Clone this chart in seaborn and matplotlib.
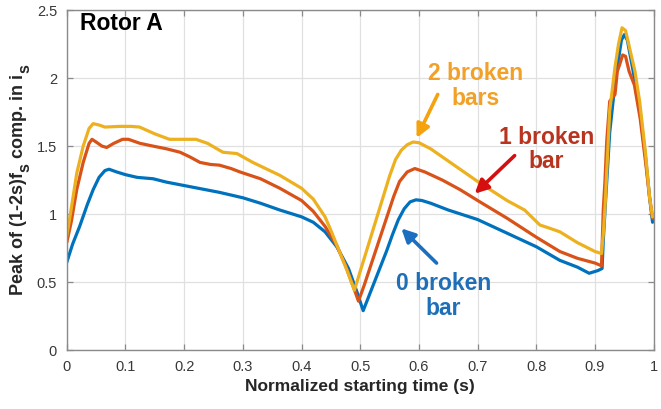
import matplotlib
matplotlib.use("Agg")
import matplotlib.pyplot as plt
import matplotlib._mathtext as _mt
import seaborn as sns
import pandas as pd

# ---- data ----
x0 = [0.0, 0.01, 0.022, 0.035, 0.045, 0.055, 0.065, 0.072, 0.085, 0.1, 0.12, 0.147, 0.17, 0.2,
      0.23, 0.26, 0.3, 0.33, 0.363, 0.4, 0.42, 0.44, 0.46, 0.48, 0.495, 0.505, 0.515, 0.525,
      0.535, 0.545, 0.555, 0.565, 0.575, 0.585, 0.595, 0.605, 0.62, 0.65, 0.7, 0.75, 0.8,
      0.84, 0.87, 0.89, 0.905, 0.912, 0.914, 0.918, 0.925, 0.935, 0.945, 0.95, 0.955, 0.965,
      0.976, 0.986, 0.993, 0.998]
y0 = [0.645, 0.78, 0.91, 1.07, 1.18, 1.27, 1.32, 1.33, 1.31, 1.29, 1.27, 1.26, 1.235, 1.21,
      1.185, 1.16, 1.12, 1.08, 1.03, 0.98, 0.94, 0.87, 0.76, 0.6, 0.42, 0.29, 0.40, 0.51,
      0.62, 0.73, 0.85, 0.96, 1.04, 1.09, 1.105, 1.10, 1.08, 1.03, 0.96, 0.86, 0.76,
      0.66, 0.61, 0.565, 0.585, 0.60, 0.8, 1.1, 1.6, 2.0, 2.28, 2.32, 2.28, 2.05,
      1.78, 1.42, 1.12, 0.94]

x1 = [0.0, 0.008, 0.017, 0.028, 0.038, 0.043, 0.05, 0.06, 0.068, 0.08, 0.095, 0.105, 0.125,
      0.147, 0.17, 0.193, 0.21, 0.227, 0.245, 0.26, 0.28, 0.295, 0.33, 0.363, 0.4, 0.42,
      0.44, 0.46, 0.475, 0.487, 0.497, 0.507, 0.517, 0.527, 0.537, 0.547, 0.557, 0.567,
      0.58, 0.593, 0.61, 0.64, 0.67, 0.7, 0.75, 0.8, 0.84, 0.87, 0.9, 0.911, 0.914, 0.917,
      0.92, 0.925, 0.934, 0.938, 0.942, 0.947, 0.952, 0.958, 0.967, 0.977, 0.987, 0.993,
      0.998]
y1 = [0.79, 0.95, 1.18, 1.38, 1.52, 1.55, 1.53, 1.50, 1.49, 1.52, 1.55, 1.55, 1.52,
      1.50, 1.48, 1.455, 1.42, 1.38, 1.365, 1.36, 1.335, 1.31, 1.26, 1.19, 1.10, 1.02,
      0.91, 0.77, 0.62, 0.48, 0.36, 0.48, 0.61, 0.74, 0.87, 1.0, 1.13, 1.24,
      1.31, 1.335, 1.31, 1.25, 1.18, 1.10, 0.97, 0.83, 0.725, 0.675, 0.64, 0.62, 1.03, 1.25,
      1.54, 1.83, 1.88, 2.05, 2.10, 2.17, 2.16, 2.05, 1.95, 1.70, 1.35, 1.12,
      0.97]

x2 = [0.0, 0.008, 0.017, 0.028, 0.038, 0.045, 0.055, 0.065, 0.09, 0.11, 0.124, 0.15, 0.175,
      0.2, 0.22, 0.24, 0.266, 0.29, 0.317, 0.363, 0.4, 0.42, 0.44, 0.45, 0.465, 0.478,
      0.49, 0.5, 0.51, 0.52, 0.53, 0.54, 0.55, 0.56, 0.57, 0.58, 0.59, 0.6, 0.62, 0.65, 0.7,
      0.75, 0.78, 0.806, 0.82, 0.84, 0.87, 0.9, 0.911, 0.914, 0.917, 0.925, 0.934, 0.94,
      0.946, 0.952, 0.96, 0.968, 0.976, 0.986, 0.993, 0.998]
y2 = [0.84, 1.05, 1.30, 1.50, 1.63, 1.665, 1.655, 1.64, 1.645, 1.645, 1.64, 1.59, 1.55,
      1.55, 1.55, 1.52, 1.455, 1.445, 1.38, 1.285, 1.19, 1.11, 0.98, 0.88, 0.72, 0.58,
      0.44, 0.58, 0.72, 0.86, 1.0, 1.14, 1.28, 1.40, 1.47, 1.51, 1.53, 1.525, 1.48, 1.39, 1.24,
      1.10, 1.03, 0.92, 0.90, 0.87, 0.79, 0.725, 0.71, 0.85, 1.05, 1.76, 2.08, 2.25,
      2.37, 2.35, 2.20, 2.05, 1.83, 1.45, 1.12, 0.98]

series_names = ["0 broken bar", "1 broken bar", "2 broken bars"]
x_ticks = [0, 0.1, 0.2, 0.3, 0.4, 0.5, 0.6, 0.7, 0.8, 0.9, 1]
x_tick_labels = ["0", "0.1", "0.2", "0.3", "0.4", "0.5", "0.6", "0.7", "0.8", "0.9", "1"]
y_ticks = [0, 0.5, 1, 1.5, 2, 2.5]
y_tick_labels = ["0", "0.5", "1", "1.5", "2", "2.5"]

# ---- styling ----
sns.set_theme(style="white")
plt.rcParams["font.family"] = ["Liberation Sans", "DejaVu Sans"]
plt.rcParams["mathtext.fontset"] = "custom"
plt.rcParams["mathtext.rm"] = "Liberation Sans:bold"
plt.rcParams["mathtext.bf"] = "Liberation Sans:bold"
plt.rcParams["mathtext.it"] = "Liberation Sans:bold"
plt.rcParams["mathtext.default"] = "bf"
# larger, lower subscripts, as in the reference label
_mt.SHRINK_FACTOR = 0.9
_mt.FontConstantsBase.sub1 = 0.7
_mt.FontConstantsBase.sub2 = 0.9

frames = []
for name, xs, ys in zip(series_names, [x0, x1, x2], [y0, y1, y2]):
    frames.append(pd.DataFrame({"t": xs, "v": ys, "s": name}))
df = pd.concat(frames, ignore_index=True)

palette = {"0 broken bar": "#0072BD", "1 broken bar": "#D95319", "2 broken bars": "#EDB120"}

fig = plt.figure(figsize=(6.61, 4.09), dpi=100)
ax = fig.add_axes([0.101, 0.144, 0.888, 0.8313])

sns.lineplot(data=df, x="t", y="v", hue="s", hue_order=series_names, palette=palette,
             estimator=None, sort=False, linewidth=2.3, legend=False, ax=ax)

ax.set_xlim(0, 1)
ax.set_ylim(0, 2.5)
ax.set_xticks(x_ticks)
ax.set_xticklabels(x_tick_labels)
ax.set_yticks(y_ticks)
ax.set_yticklabels(y_tick_labels)
ax.grid(True, color="#e0e0e0", linewidth=0.9)
ax.set_axisbelow(True)
for sp in ax.spines.values():
    sp.set_color("#8a8a8a")
    sp.set_linewidth(1.0)
    sp.set_visible(True)
ax.tick_params(direction="in", length=4, width=0.9, colors="#8a8a8a", labelcolor="#383838",
               labelsize=10.5, top=True, right=True, bottom=True, left=True, pad=7)

ax.set_xlabel("Normalized starting time (s)", fontsize=12.5, fontweight="bold", labelpad=4)
ax.set_ylabel(r"Peak of (1-2s)f$_s$ comp. in i$_s$", fontsize=13, fontweight="bold",
              labelpad=3)

ax.text(0.022, 2.40, "Rotor A", fontsize=16.5, fontweight="bold", color="black",
        ha="left", va="center")

ax.annotate("", xy=(0.596, 1.56), xytext=(0.632, 1.88),
            arrowprops=dict(arrowstyle="-|>", lw=2.6, color="#F5A20F", mutation_scale=20,
                            shrinkA=0, shrinkB=0))
ax.text(0.697, 1.94, "2 broken\nbars", fontsize=16.5, fontweight="bold", color="#F2A027",
        ha="center", va="center", linespacing=1.1)

ax.annotate("", xy=(0.695, 1.15), xytext=(0.763, 1.43),
            arrowprops=dict(arrowstyle="-|>", lw=2.6, color="#D50F0F", mutation_scale=20,
                            shrinkA=0, shrinkB=0))
ax.text(0.817, 1.475, "1 broken\nbar", fontsize=16.5, fontweight="bold", color="#B8341E",
        ha="center", va="center", linespacing=1.1)

ax.annotate("", xy=(0.570, 0.895), xytext=(0.630, 0.64),
            arrowprops=dict(arrowstyle="-|>", lw=2.6, color="#1C6FC0", mutation_scale=20,
                            shrinkA=0, shrinkB=0))
ax.text(0.642, 0.40, "0 broken\nbar", fontsize=16.5, fontweight="bold", color="#1E6FB8",
        ha="center", va="center", linespacing=1.1)

fig.savefig("out.png", dpi=100)
